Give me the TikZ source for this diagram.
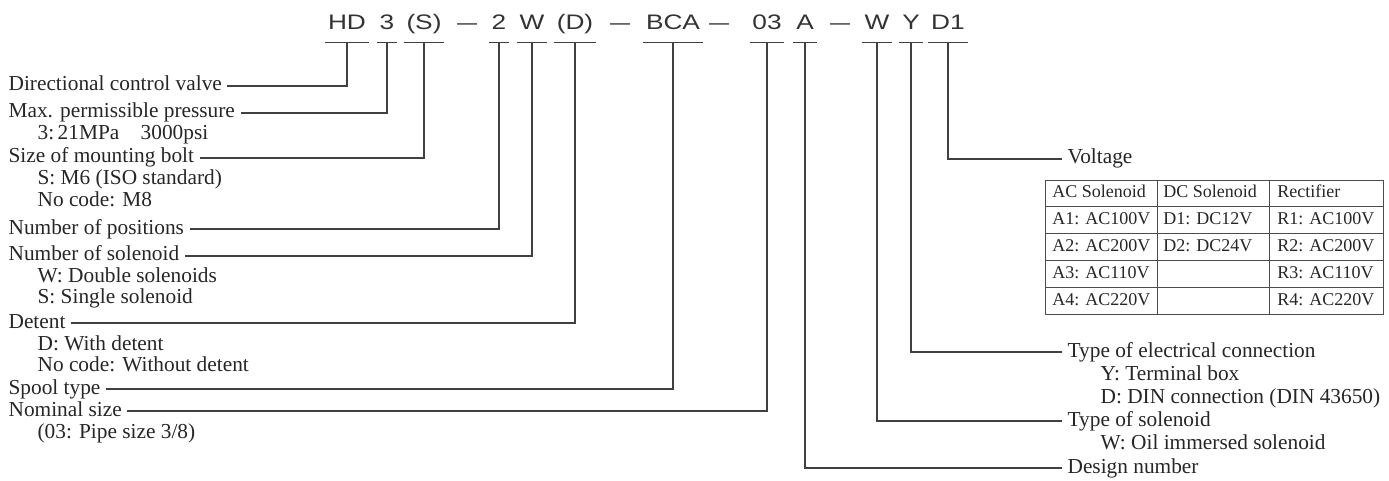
\documentclass[tikz,border=0pt]{standalone}
\usepackage{fontspec}
\setmainfont{Liberation Serif}
\newfontfamily\codefont[FakeStretch=1.25]{Liberation Sans}
\newfontfamily\dashfont{Liberation Sans}

\begin{document}
\begin{tikzpicture}[
    x=0.75pt, y=-0.75pt,
    code node/.style={anchor=base, font=\codefont\fontsize{15.75}{18}\selectfont, text=black!80, text height=11pt, text depth=0pt, inner xsep=1.9pt, inner ysep=9pt},
    dash node/.style={anchor=base, font=\dashfont\fontsize{15}{18}\selectfont, text=black!80, inner sep=0pt},
    lbl node/.style={anchor=west, font=\fontsize{16}{18}\selectfont, text=black!85, text height=11pt, text depth=3.5pt, inner xsep=4pt, inner ysep=0pt},
    cell node/.style={anchor=west, font=\fontsize{13.5}{15}\selectfont, text=black!85, text height=9.5pt, text depth=2.5pt, inner sep=0pt},
    bar edge/.style={black!75, line width=0.8pt},
    lead edge/.style={black!75, line width=0.8pt},
    tab edge/.style={black!70, line width=0.7pt}
]
\useasboundingbox (0,0) rectangle (1389,481);

% 型号代码
\node[code node] (CHD)  at (347,30) {HD};
\node[code node] (C3)   at (387,30) {3};
\node[code node] (CS)   at (424,30) {(S)};
\node[dash node] (dash1) at (467,30) {—};
\node[code node] (C2)   at (499,30) {2};
\node[code node] (CW)   at (532,30) {W};
\node[code node] (CD)   at (575,30) {(D)};
\node[dash node] (dash2) at (620,30) {—};
\node[code node] (CBCA) at (673,30) {BCA};
\node[dash node] (dash3) at (719,30) {—};
\node[code node] (C03)  at (767,30) {03};
\node[code node] (CA)   at (805,30) {A};
\node[dash node] (dash4) at (840,30) {—};
\node[code node] (CW2)  at (877,30) {W};
\node[code node] (CY)   at (911,30) {Y};
\node[code node] (CD1)  at (948,30) {D1};

\foreach \c in {CHD,C3,CS,C2,CW,CD,CBCA,C03,CA,CW2,CY,CD1}
    \draw[bar edge] (\c.south west) -- (\c.south east);

% 左侧说明
\node[lbl node] (dcv)     at (3,86)   {Directional control valve};
\node[lbl node] (press)   at (3,113)  {Max. permissible pressure};
\node[lbl node] (pressA)  at (32,135) {3:\,21MPa\quad 3000psi};
\node[lbl node] (bolt)    at (3,158)  {Size of mounting bolt};
\node[lbl node] (boltA)   at (32,180) {S: M6 (ISO standard)};
\node[lbl node] (boltB)   at (32,202) {No code: M8};
\node[lbl node] (npos)    at (3,229)  {Number of positions};
\node[lbl node] (nsol)    at (3,256)  {Number of solenoid};
\node[lbl node] (nsolA)   at (32,277) {W: Double solenoids};
\node[lbl node] (nsolB)   at (32,298) {S: Single solenoid};
\node[lbl node] (detent)  at (3,323)  {Detent};
\node[lbl node] (detentA) at (32,345) {D: With detent};
\node[lbl node] (detentB) at (32,366) {No code: Without detent};
\node[lbl node] (spool)   at (3,389)  {Spool type};
\node[lbl node] (nsize)   at (3,411)  {Nominal size};
\node[lbl node] (nsizeA)  at (32,433) {(03: Pipe size 3/8)};

% 右侧说明
\node[lbl node] (volt)    at (1062,159)  {Voltage};
\node[lbl node] (elec)    at (1062,352)  {Type of electrical connection};
\node[lbl node] (elecA)   at (1095,375)  {Y: Terminal box};
\node[lbl node] (elecB)   at (1095,398)  {D: DIN connection (DIN 43650)};
\node[lbl node] (stype)   at (1062,421)  {Type of solenoid};
\node[lbl node] (stypeA)  at (1095,444)  {W: Oil immersed solenoid};
\node[lbl node] (design)  at (1062,468)  {Design number};

% 引线
\draw[lead edge] (CHD.south)  |- (dcv.east);
\draw[lead edge] (C3.south)   |- (press.east);
\draw[lead edge] (CS.south)   |- (bolt.east);
\draw[lead edge] (C2.south)   |- (npos.east);
\draw[lead edge] (CW.south)   |- (nsol.east);
\draw[lead edge] (CD.south)   |- (detent.east);
\draw[lead edge] (CBCA.south) |- (spool.east);
\draw[lead edge] (C03.south)  |- (nsize.east);
\draw[lead edge] (CA.south)   |- (design.west);
\draw[lead edge] (CW2.south)  |- (stype.west);
\draw[lead edge] (CY.south)   |- (elec.west);
\draw[lead edge] (CD1.south)  |- (volt.west);

% 电压表
\draw[tab edge] (1045,180) rectangle (1383,314);
\foreach \y in {206,233,260,287}
    \draw[tab edge] (1045,\y) -- (1383,\y);
\foreach \x in {1157,1269}
    \draw[tab edge] (\x,180) -- (\x,314);

\foreach \txt/\x/\y [count=\i] in {
    AC Solenoid/1052/193, DC Solenoid/1163/193, Rectifier/1277/193,
    A1: AC100V/1052/219.5, D1: DC12V/1163/219.5, R1: AC100V/1277/219.5,
    A2: AC200V/1052/246.5, D2: DC24V/1163/246.5, R2: AC200V/1277/246.5,
    A3: AC110V/1052/273.5, R3: AC110V/1277/273.5,
    A4: AC220V/1052/300.5, R4: AC220V/1277/300.5}
    \node[cell node] (cell\i) at (\x,\y) {\txt};

\end{tikzpicture}
\end{document}
